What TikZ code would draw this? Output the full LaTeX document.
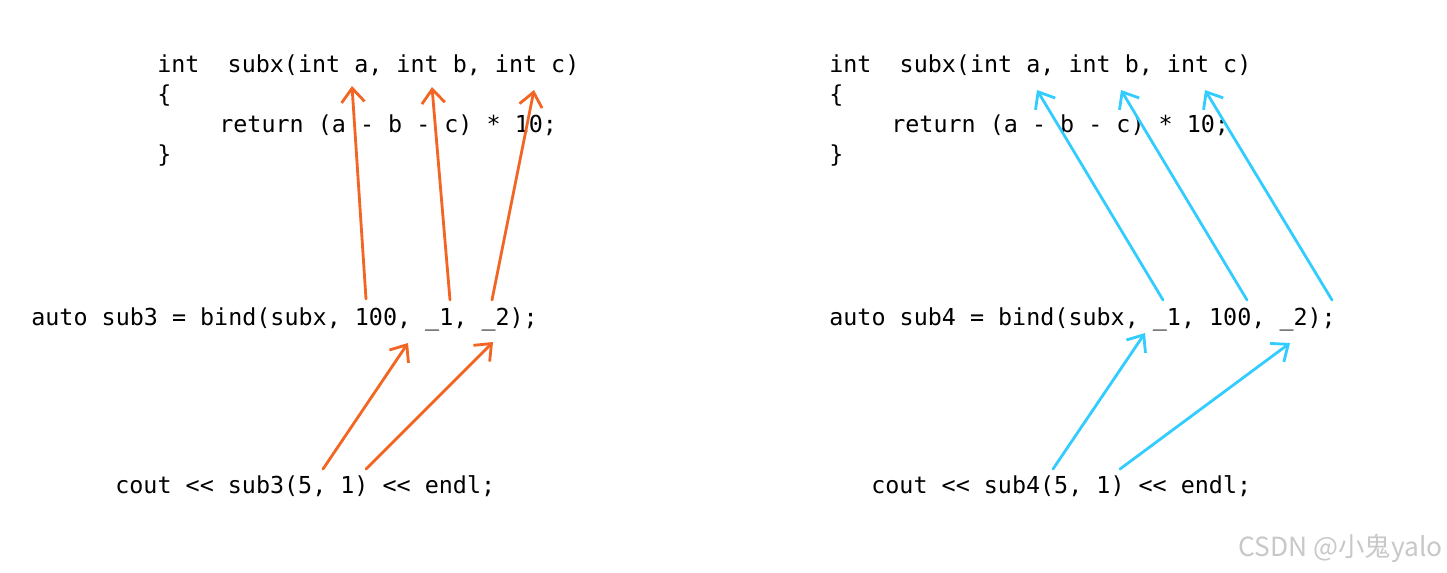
\documentclass[tikz,border=0pt]{standalone}
\usepackage{fontspec}
\setmonofont{DejaVu Sans Mono}
\newfontfamily\cjk{Noto Sans CJK SC}
\usetikzlibrary{arrows.meta, positioning}
\definecolor{bindorange}{HTML}{F26522}
\definecolor{bindcyan}{HTML}{33CCFF}
\definecolor{wmgray}{HTML}{C8C8C8}
\tikzset{
  code/.style={inner sep=0pt, anchor=base west, font=\ttfamily\fontsize{13.3}{16}\selectfont},
  wmark/.style={inner sep=0pt, anchor=base east, font=\cjk\fontsize{15}{18}\selectfont, text=wmgray},
  arrl/.style={-{Straight Barb[length=2.8mm, width=4.6mm]}, line width=1.6pt, line cap=round, bindorange},
  arrr/.style={-{Straight Barb[length=2.8mm, width=4.6mm]}, line width=1.6pt, line cap=round, bindcyan},
}

\begin{document}
\begin{tikzpicture}[x=0.02cm, y=-0.02cm]
    \useasboundingbox (0,0) rectangle (1447,572);
    % left: bind(subx, 100, _1, _2)
    \node[code] (lsig) at (157,72) {int\ \ subx(int a, int b, int c)};
    \node[code] (lopen) at (157,102) {\{};
    \node[code] (lret) at (219,132) {return (a - b - c) * 10;};
    \node[code] (lclose) at (157,162) {\}};
    \node[code] (lbind) at (31,325) {auto sub3 = bind(subx, 100, \_1, \_2);};
    \node[code] (lcall) at (115,493) {cout << sub3(5, 1) << endl;};
    % right: bind(subx, _1, 100, _2)
    \node[code] (rsig) at (829,72) {int\ \ subx(int a, int b, int c)};
    \node[code] (ropen) at (829,102) {\{};
    \node[code] (rret) at (891,132) {return (a - b - c) * 10;};
    \node[code] (rclose) at (829,162) {\}};
    \node[code] (rbind) at (829,325) {auto sub4 = bind(subx, \_1, 100, \_2);};
    \node[code] (rcall) at (871,493) {cout << sub4(5, 1) << endl;};
    \node[wmark] (wm) at (1443,556) {CSDN @小鬼yalo};

    % arrow ends
    \coordinate (la) at (352,86);
    \coordinate (lb) at (432,87);
    \coordinate (lc) at (534,90);
    \coordinate (l100) at (366,299);
    \coordinate (lu1) at (450,300);
    \coordinate (lu2) at (492,300);
    \coordinate (lu1t) at (408,343);
    \coordinate (lu2t) at (493,342);
    \coordinate (l5) at (323,469);
    \coordinate (l1) at (366,469);
    \coordinate (ra) at (1037,90);
    \coordinate (rb) at (1121,90);
    \coordinate (rc) at (1205,90);
    \coordinate (ru1) at (1163,300);
    \coordinate (r100) at (1247,300);
    \coordinate (ru2) at (1332,300);
    \coordinate (ru1t) at (1145,333);
    \coordinate (ru2t) at (1290,343);
    \coordinate (r5) at (1053,469);
    \coordinate (r1) at (1120,469);

    \draw[arrl] (l100) -- (la);
    \draw[arrl] (lu1) -- (lb);
    \draw[arrl] (lu2) -- (lc);
    \draw[arrl] (l5) -- (lu1t);
    \draw[arrl] (l1) -- (lu2t);
    \draw[arrr] (ru1) -- (ra);
    \draw[arrr] (r100) -- (rb);
    \draw[arrr] (ru2) -- (rc);
    \draw[arrr] (r5) -- (ru1t);
    \draw[arrr] (r1) -- (ru2t);
\end{tikzpicture}
\end{document}
